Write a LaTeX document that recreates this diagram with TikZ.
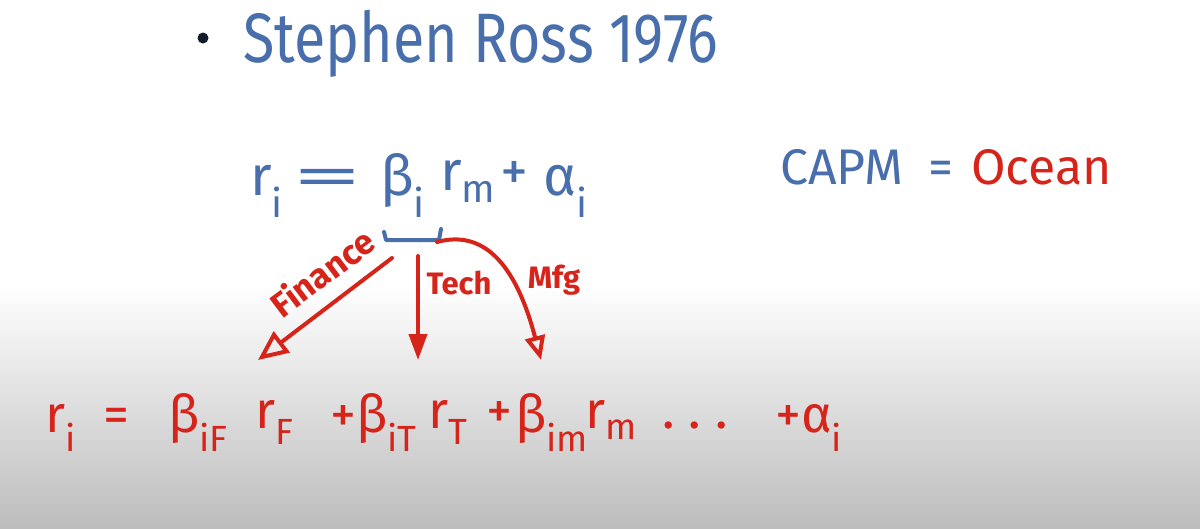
\documentclass[tikz,border=0pt]{standalone}
\usepackage{fontspec}
\newfontfamily\fira{Fira Sans}
\usetikzlibrary{arrows.meta}
\definecolor{penblue}{RGB}{72,110,172}
\definecolor{penred}{RGB}{214,36,26}
\definecolor{pendark}{RGB}{20,28,44}
\tikzset{
  hand/.style={inner sep=0pt, anchor=base west},
  bluepen/.style={hand, text=penblue},
  redpen/.style={hand, text=penred},
  title/.style={font=\fira\fontsize{70}{76}\selectfont, xscale=0.82},
  big/.style={font=\fira\fontsize{56}{60}\selectfont},
  mid/.style={font=\fira\fontsize{50}{56}\selectfont},
  low/.style={font=\fira\fontsize{52}{56}\selectfont},
  lab/.style={font=\fira\bfseries\fontsize{31}{34}\selectfont, text=penred, inner sep=0pt},
  redstroke/.style={draw=penred, line width=4pt, line cap=round, line join=round},
  bluestroke/.style={draw=penblue, line width=4pt, line cap=round, line join=round},
}
\begin{document}
\begin{tikzpicture}[x=1pt,y=-1pt]
\useasboundingbox (0,0) rectangle (1200,528);
\fill[white] (0,0) rectangle (1200,528);
\shade[top color=white, bottom color=black!26] (0,285) rectangle (1200,528);

% title
\fill[pendark] (203,38) circle (5.5);
\node[bluepen, title] (title) at (243,62) {Stephen Ross 1976};

% CAPM formula
\node[bluepen, big] (ri) at (250,195) {r\textsubscript{i}};
\node[bluepen, big, xscale=2.5] (eq) at (292,195) {=};
\node[bluepen, big] (bi) at (380,195) {β\textsubscript{i}};
\node[bluepen, big] (rm) at (440,190) {r\textsubscript{m}};
\node[bluepen, big] (plus) at (500,190) {+};
\node[bluepen, big] (ai) at (543,195) {α\textsubscript{i}};

% CAPM = Ocean
\node[bluepen, mid] (capm) at (780,184) {CAPM};
\node[redpen, mid] (ocean) at (928,184) {\textcolor{penblue}{=}\hspace{18pt}Ocean};

% bracket under beta_i
\coordinate (brL) at (384,232);
\coordinate (brR) at (441,229);
\draw[bluestroke] (brL) -- (386,240) -- (439,240) -- (brR);

% arrows
\coordinate (finS) at (392,258);
\coordinate (finE) at (258,360);
\coordinate (techS) at (418,256);
\coordinate (techE) at (418,360);
\coordinate (mfgS) at (437,242);
\coordinate (mfgE) at (541,360);
\draw[redstroke, -{Triangle[open, length=30pt, width=26pt, line width=4pt]}] (finS) -- (finE);
\draw[redstroke, -{Triangle[length=26pt, width=18pt]}] (techS) -- (techE);
\draw[redstroke, -{Triangle[open, length=24pt, width=20pt, line width=4pt]}] (mfgS) .. controls (488,228) and (518,272) .. (mfgE);

\node[lab, rotate=37, scale=1.12] (fin) at (322,272) {Finance};
\node[lab] (tech) at (459,283) {Tech};
\node[lab] (mfg) at (554,280) {Mfg};

% APT formula
\node[redpen, low] (Ri) at (45,432) {r\textsubscript{i}};
\node[redpen, low] (Eq) at (103,432) {=};
\node[redpen, low] (BiF) at (168,432) {β\textsubscript{iF}};
\node[redpen, low] (rF) at (255,428) {r\textsubscript{F}};
\node[redpen, low] (BiT) at (330,432) {+β\textsubscript{iT}};
\node[redpen, low] (rT) at (428,428) {r\textsubscript{T}};
\node[redpen, low] (Plus2) at (486,428) {+};
\node[redpen, low] (Bim) at (515,432) {β\textsubscript{im}};
\node[redpen, low] (rM) at (585,428) {r\textsubscript{m}};
\node[redpen, low] (dots) at (662,428) {.\hspace{14pt}.\hspace{14pt}.};
\node[redpen, low] (Ai) at (775,432) {+α\textsubscript{i}};
\end{tikzpicture}
\end{document}
